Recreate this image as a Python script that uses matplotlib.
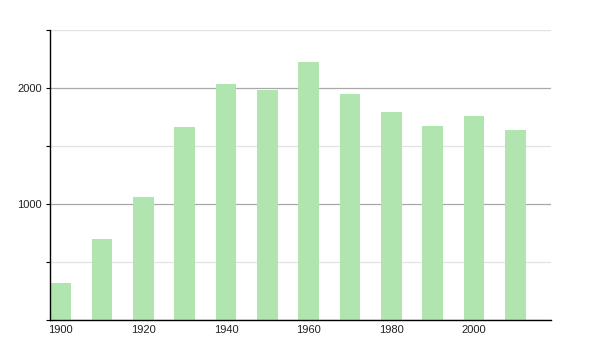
import matplotlib
matplotlib.use("Agg")
import matplotlib.pyplot as plt
from matplotlib.ticker import MultipleLocator, FuncFormatter

# data
years = [1900, 1910, 1920, 1930, 1940, 1950, 1960, 1970, 1980, 1990, 2000, 2010]
population = [319, 701, 1060, 1664, 2037, 1985, 2221, 1951, 1796, 1675, 1761, 1641]
xtick_years = [1900, 1920, 1940, 1960, 1980, 2000]

plt.rcParams['font.family'] = ['Liberation Sans', 'DejaVu Sans']

fig = plt.figure(figsize=(6, 3.5), dpi=100)
ax = fig.add_axes([50/600, 29.7/350, 501/600, 290.3/350])

ax.bar(years, population, width=5, color='#b1e5b0', zorder=2)

ax.set_xlim(1897.4, 2018.6)
ax.set_ylim(0, 2500)

ax.yaxis.set_major_locator(MultipleLocator(1000))
ax.yaxis.set_minor_locator(MultipleLocator(500))
ax.yaxis.set_major_formatter(FuncFormatter(lambda v, p: '' if v == 0 else '%d' % v))
ax.grid(axis='y', which='major', color='#a8a8a8', linewidth=0.9, zorder=0)
ax.grid(axis='y', which='minor', color='#e2e2e2', linewidth=0.9, zorder=0)

ax.set_xticks(xtick_years)
ax.tick_params(axis='x', length=0, pad=3.5, labelsize=8, colors='#222222')
ax.tick_params(axis='y', which='both', length=3.2, width=0.8, pad=2.5, labelsize=8, labelcolor='#222222')

for s in ['top', 'right']:
    ax.spines[s].set_visible(False)
ax.spines['left'].set_linewidth(1)
ax.spines['bottom'].set_linewidth(1)

fig.savefig('out.png', dpi=100)
